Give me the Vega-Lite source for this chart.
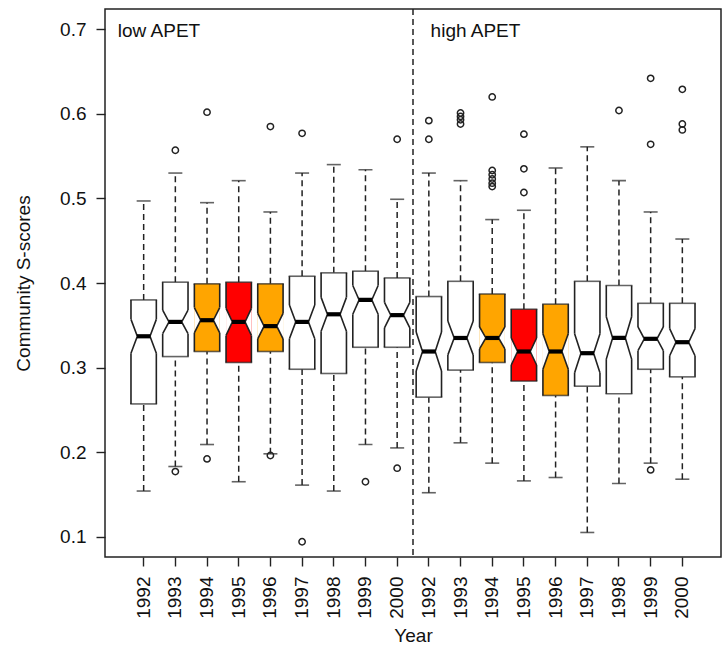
{
  "$schema": "https://vega.github.io/schema/vega-lite/v6.json",
  "width": 616,
  "height": 548,
  "autosize": {"type": "none"},
  "padding": {"left": 105, "top": 9, "right": 6, "bottom": 91},
  "background": "white",
  "config": {
    "view": {"stroke": "#222", "strokeWidth": 1.5},
    "font": "Liberation Sans",
    "axis": {"grid": false, "domain": false, "labelFont": "Liberation Sans", "labelFontSize": 19, "labelColor": "#111", "titleFont": "Liberation Sans", "titleFontSize": 19, "titleFontWeight": "normal", "titleColor": "#111", "tickColor": "#222", "tickWidth": 1.4, "tickSize": 9}
  },
  "datasets": {
    "boxes": [
      {"box": "low 1992", "group": "low APET", "year": 1992, "lo": 0.154, "q1": 0.257, "nlo": 0.317, "med": 0.337, "nhi": 0.357, "q3": 0.380, "hi": 0.497, "class": "plain"},
      {"box": "low 1993", "group": "low APET", "year": 1993, "lo": 0.183, "q1": 0.313, "nlo": 0.340, "med": 0.354, "nhi": 0.368, "q3": 0.401, "hi": 0.530, "class": "plain"},
      {"box": "low 1994", "group": "low APET", "year": 1994, "lo": 0.209, "q1": 0.319, "nlo": 0.341, "med": 0.356, "nhi": 0.371, "q3": 0.399, "hi": 0.495, "class": "orange"},
      {"box": "low 1995", "group": "low APET", "year": 1995, "lo": 0.165, "q1": 0.306, "nlo": 0.338, "med": 0.354, "nhi": 0.370, "q3": 0.401, "hi": 0.521, "class": "red"},
      {"box": "low 1996", "group": "low APET", "year": 1996, "lo": 0.198, "q1": 0.319, "nlo": 0.334, "med": 0.349, "nhi": 0.364, "q3": 0.399, "hi": 0.484, "class": "orange"},
      {"box": "low 1997", "group": "low APET", "year": 1997, "lo": 0.161, "q1": 0.298, "nlo": 0.334, "med": 0.354, "nhi": 0.374, "q3": 0.408, "hi": 0.530, "class": "plain"},
      {"box": "low 1998", "group": "low APET", "year": 1998, "lo": 0.154, "q1": 0.293, "nlo": 0.343, "med": 0.363, "nhi": 0.383, "q3": 0.412, "hi": 0.540, "class": "plain"},
      {"box": "low 1999", "group": "low APET", "year": 1999, "lo": 0.209, "q1": 0.324, "nlo": 0.363, "med": 0.380, "nhi": 0.397, "q3": 0.414, "hi": 0.534, "class": "plain"},
      {"box": "low 2000", "group": "low APET", "year": 2000, "lo": 0.205, "q1": 0.324, "nlo": 0.347, "med": 0.362, "nhi": 0.377, "q3": 0.406, "hi": 0.499, "class": "plain"},
      {"box": "high 1992", "group": "high APET", "year": 1992, "lo": 0.152, "q1": 0.265, "nlo": 0.296, "med": 0.319, "nhi": 0.342, "q3": 0.384, "hi": 0.530, "class": "plain"},
      {"box": "high 1993", "group": "high APET", "year": 1993, "lo": 0.211, "q1": 0.297, "nlo": 0.315, "med": 0.335, "nhi": 0.355, "q3": 0.402, "hi": 0.521, "class": "plain"},
      {"box": "high 1994", "group": "high APET", "year": 1994, "lo": 0.187, "q1": 0.306, "nlo": 0.322, "med": 0.335, "nhi": 0.348, "q3": 0.387, "hi": 0.475, "class": "orange"},
      {"box": "high 1995", "group": "high APET", "year": 1995, "lo": 0.166, "q1": 0.284, "nlo": 0.303, "med": 0.319, "nhi": 0.335, "q3": 0.369, "hi": 0.486, "class": "red"},
      {"box": "high 1996", "group": "high APET", "year": 1996, "lo": 0.170, "q1": 0.267, "nlo": 0.298, "med": 0.319, "nhi": 0.340, "q3": 0.375, "hi": 0.536, "class": "orange"},
      {"box": "high 1997", "group": "high APET", "year": 1997, "lo": 0.105, "q1": 0.278, "nlo": 0.294, "med": 0.317, "nhi": 0.340, "q3": 0.402, "hi": 0.561, "class": "plain"},
      {"box": "high 1998", "group": "high APET", "year": 1998, "lo": 0.163, "q1": 0.269, "nlo": 0.310, "med": 0.335, "nhi": 0.360, "q3": 0.397, "hi": 0.521, "class": "plain"},
      {"box": "high 1999", "group": "high APET", "year": 1999, "lo": 0.187, "q1": 0.298, "nlo": 0.320, "med": 0.334, "nhi": 0.348, "q3": 0.376, "hi": 0.484, "class": "plain"},
      {"box": "high 2000", "group": "high APET", "year": 2000, "lo": 0.168, "q1": 0.289, "nlo": 0.314, "med": 0.330, "nhi": 0.346, "q3": 0.376, "hi": 0.452, "class": "plain"}
    ],
    "outliers": [
      {"box": "low 1993", "value": 0.557}, {"box": "low 1993", "value": 0.177},
      {"box": "low 1994", "value": 0.602}, {"box": "low 1994", "value": 0.192},
      {"box": "low 1996", "value": 0.585}, {"box": "low 1996", "value": 0.196},
      {"box": "low 1997", "value": 0.577}, {"box": "low 1997", "value": 0.094},
      {"box": "low 1999", "value": 0.165},
      {"box": "low 2000", "value": 0.570}, {"box": "low 2000", "value": 0.181},
      {"box": "high 1992", "value": 0.592}, {"box": "high 1992", "value": 0.570},
      {"box": "high 1993", "value": 0.601}, {"box": "high 1993", "value": 0.597}, {"box": "high 1993", "value": 0.593}, {"box": "high 1993", "value": 0.588},
      {"box": "high 1994", "value": 0.620}, {"box": "high 1994", "value": 0.533}, {"box": "high 1994", "value": 0.528}, {"box": "high 1994", "value": 0.523}, {"box": "high 1994", "value": 0.518}, {"box": "high 1994", "value": 0.514},
      {"box": "high 1995", "value": 0.576}, {"box": "high 1995", "value": 0.535}, {"box": "high 1995", "value": 0.507},
      {"box": "high 1998", "value": 0.604},
      {"box": "high 1999", "value": 0.642}, {"box": "high 1999", "value": 0.564}, {"box": "high 1999", "value": 0.179},
      {"box": "high 2000", "value": 0.629}, {"box": "high 2000", "value": 0.588}, {"box": "high 2000", "value": 0.581}
    ],
    "divider": [{"box": "low 2000"}],
    "panels": [{"box": "low 1992", "label": "low APET"}, {"box": "high 1992", "label": "high APET"}]
  },
  "resolve": {"scale": {"xOffset": "independent"}},
  "layer": [
    {
      "data": {"name": "boxes"},
      "mark": {"type": "rule", "stroke": "#222", "strokeWidth": 1.5, "strokeDash": [6, 4]},
      "encoding": {
        "x": {"field": "box", "type": "nominal", "scale": {"domain": ["low 1992","low 1993","low 1994","low 1995","low 1996","low 1997","low 1998","low 1999","low 2000","high 1992","high 1993","high 1994","high 1995","high 1996","high 1997","high 1998","high 1999","high 2000"], "paddingInner": 0.2, "paddingOuter": 0.82}, "axis": {"title": "Year", "labelAngle": -90, "labelPadding": 10, "titlePadding": 8, "labelExpr": "substring(datum.value, datum.value.length - 4)"}},
        "y": {"field": "q3", "type": "quantitative", "scale": {"domain": [0.076, 0.724], "nice": false, "zero": false}, "axis": {"title": "Community  S-scores", "values": [0.1, 0.2, 0.3, 0.4, 0.5, 0.6, 0.7], "format": ".1f", "labelPadding": 10, "titlePadding": 26}},
        "y2": {"field": "hi"}
      }
    },
    {
      "data": {"name": "boxes"},
      "mark": {"type": "rule", "stroke": "#222", "strokeWidth": 1.5, "strokeDash": [6, 4]},
      "encoding": {
        "x": {"field": "box", "type": "nominal"},
        "y": {"field": "lo", "type": "quantitative"},
        "y2": {"field": "q1"}
      }
    },
    {
      "data": {"name": "boxes"},
      "transform": [{"fold": ["lo", "hi"], "as": ["end", "value"]}],
      "mark": {"type": "tick", "color": "#222", "size": 14, "thickness": 1.6},
      "encoding": {
        "x": {"field": "box", "type": "nominal"},
        "y": {"field": "value", "type": "quantitative"}
      }
    },
    {
      "data": {"name": "boxes"},
      "mark": {"type": "bar", "strokeWidth": 0},
      "encoding": {
        "x": {"field": "box", "type": "nominal"},
        "y": {"field": "q1", "type": "quantitative"},
        "y2": {"field": "q3"},
        "fill": {"field": "class", "type": "nominal", "scale": {"domain": ["plain", "orange", "red"], "range": ["#ffffff", "#ffa500", "#ff0000"]}, "legend": null}
      }
    },
    {
      "data": {"name": "boxes"},
      "transform": [
        {"fold": ["nlo", "med", "nhi"], "as": ["stat", "value"]},
        {"window": [{"op": "count", "as": "nb"}], "frame": [-1, 1], "sort": [{"field": "value"}], "groupby": ["box"]}
      ],
      "mark": {"type": "line", "fill": "white", "stroke": "#222", "strokeWidth": 1.6},
      "encoding": {
        "x": {"field": "box", "type": "nominal"},
        "xOffset": {"field": "nb", "type": "quantitative", "scale": {"domain": [2, 3], "range": [0, 6.34]}},
        "y": {"field": "value", "type": "quantitative"},
        "detail": {"field": "box"},
        "order": {"field": "value", "type": "quantitative"}
      }
    },
    {
      "data": {"name": "boxes"},
      "transform": [
        {"fold": ["nlo", "med", "nhi"], "as": ["stat", "value"]},
        {"window": [{"op": "count", "as": "nb"}], "frame": [-1, 1], "sort": [{"field": "value"}], "groupby": ["box"]}
      ],
      "mark": {"type": "line", "fill": "white", "stroke": "#222", "strokeWidth": 1.6},
      "encoding": {
        "x": {"field": "box", "type": "nominal"},
        "xOffset": {"field": "nb", "type": "quantitative", "scale": {"domain": [2, 3], "range": [25.35, 19.01]}},
        "y": {"field": "value", "type": "quantitative"},
        "detail": {"field": "box"},
        "order": {"field": "value", "type": "quantitative"}
      }
    },
    {
      "data": {"name": "boxes"},
      "mark": {"type": "rule", "stroke": "#222", "strokeWidth": 1.6},
      "encoding": {"x": {"field": "box", "type": "nominal", "bandPosition": 0}, "y": {"field": "q1", "type": "quantitative"}, "y2": {"field": "nlo"}}
    },
    {
      "data": {"name": "boxes"},
      "mark": {"type": "rule", "stroke": "#222", "strokeWidth": 1.6},
      "encoding": {"x": {"field": "box", "type": "nominal", "bandPosition": 0}, "y": {"field": "nhi", "type": "quantitative"}, "y2": {"field": "q3"}}
    },
    {
      "data": {"name": "boxes"},
      "mark": {"type": "rule", "stroke": "#222", "strokeWidth": 1.6},
      "encoding": {"x": {"field": "box", "type": "nominal", "bandPosition": 1}, "y": {"field": "q1", "type": "quantitative"}, "y2": {"field": "nlo"}}
    },
    {
      "data": {"name": "boxes"},
      "mark": {"type": "rule", "stroke": "#222", "strokeWidth": 1.6},
      "encoding": {"x": {"field": "box", "type": "nominal", "bandPosition": 1}, "y": {"field": "nhi", "type": "quantitative"}, "y2": {"field": "q3"}}
    },
    {
      "data": {"name": "boxes"},
      "transform": [{"fold": ["q1", "q3"], "as": ["hinge", "value"]}],
      "mark": {"type": "tick", "color": "#222", "size": 26.9, "thickness": 1.6},
      "encoding": {
        "x": {"field": "box", "type": "nominal"},
        "y": {"field": "value", "type": "quantitative"}
      }
    },
    {
      "data": {"name": "boxes"},
      "mark": {"type": "tick", "color": "#000", "opacity": 1, "size": 13.5, "thickness": 4.2},
      "encoding": {
        "x": {"field": "box", "type": "nominal"},
        "y": {"field": "med", "type": "quantitative"}
      }
    },
    {
      "data": {"name": "outliers"},
      "mark": {"type": "point", "shape": "circle", "filled": false, "stroke": "#222", "opacity": 1, "strokeWidth": 1.5, "size": 40},
      "encoding": {
        "x": {"field": "box", "type": "nominal"},
        "y": {"field": "value", "type": "quantitative"}
      }
    },
    {
      "data": {"name": "divider"},
      "mark": {"type": "rule", "stroke": "#222", "strokeWidth": 1.5, "strokeDash": [6, 4]},
      "encoding": {"x": {"field": "box", "type": "nominal", "bandPosition": 1.125}}
    },
    {
      "data": {"name": "panels"},
      "transform": [{"filter": "datum.label === 'low APET'"}],
      "mark": {"type": "text", "align": "left", "baseline": "alphabetic", "fontSize": 19, "font": "Liberation Sans", "color": "#111"},
      "encoding": {
        "x": {"field": "box", "type": "nominal", "bandPosition": -0.52},
        "y": {"datum": 0.691, "type": "quantitative"},
        "text": {"field": "label"}
      }
    },
    {
      "data": {"name": "panels"},
      "transform": [{"filter": "datum.label === 'high APET'"}],
      "mark": {"type": "text", "align": "left", "baseline": "alphabetic", "fontSize": 19, "font": "Liberation Sans", "color": "#111"},
      "encoding": {
        "x": {"field": "box", "type": "nominal", "bandPosition": 0.57},
        "y": {"datum": 0.691, "type": "quantitative"},
        "text": {"field": "label"}
      }
    }
  ]
}
